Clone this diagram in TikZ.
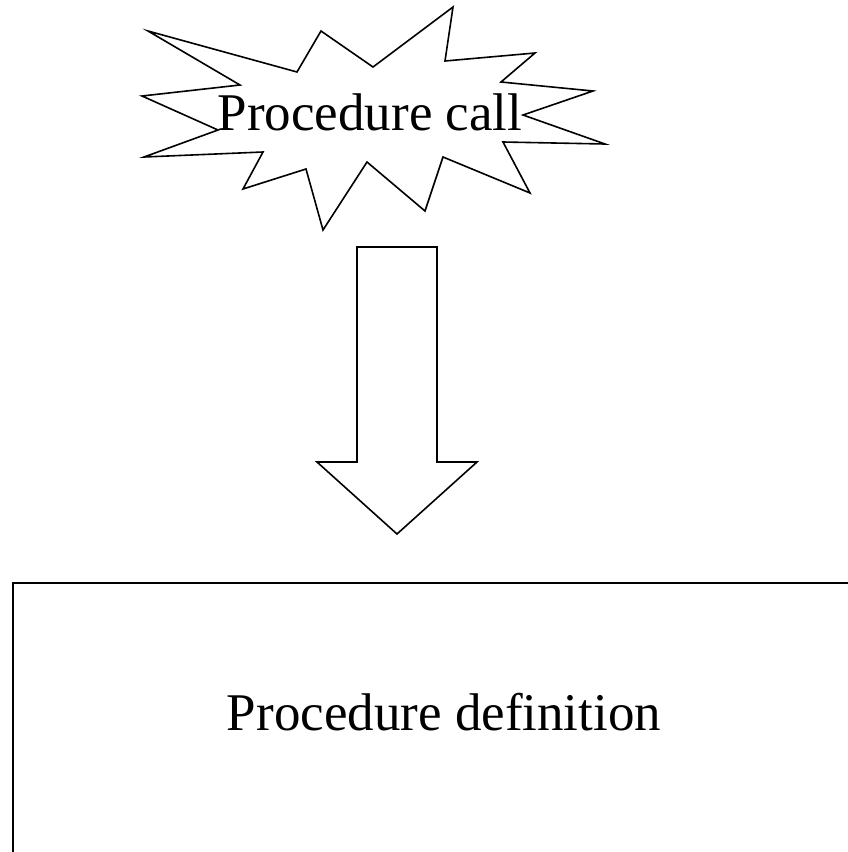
\documentclass[tikz,border=0pt]{standalone}
\usepackage{fontspec}
\setmainfont{Liberation Serif}
\begin{document}
\begin{tikzpicture}[x=1pt,y=-1pt,line width=1.6pt,
  bigtext/.style={font=\fontsize{53}{60}\selectfont,inner sep=0pt,anchor=base}]
\useasboundingbox (0,0) rectangle (848,852);
\clip (0,0) rectangle (848,852);
% the burst round the call
\draw (148,31) -- (297,72) -- (321,31) -- (373,67) -- (453,7) -- (445,61)
  -- (535,53) -- (501,82) -- (593,91) -- (523,115) -- (605,144) -- (503,142)
  -- (530,193) -- (443,157) -- (425,211) -- (367,162) -- (323,230) -- (306,169)
  -- (243,189) -- (263,152) -- (144,157) -- (218,130) -- (142,96) -- (240,85) -- cycle;
\node [bigtext] (call) at (370,130) {Procedure call};
% block arrow
\draw (357,247) -- (437,247) -- (437,462) -- (477,462) -- (397,534)
  -- (317,462) -- (357,462) -- cycle;
% definition box (runs off the page)
\draw (13,583) rectangle (870,880);
\node [bigtext] (def) at (444,730) {Procedure definition};
\end{tikzpicture}
\end{document}
